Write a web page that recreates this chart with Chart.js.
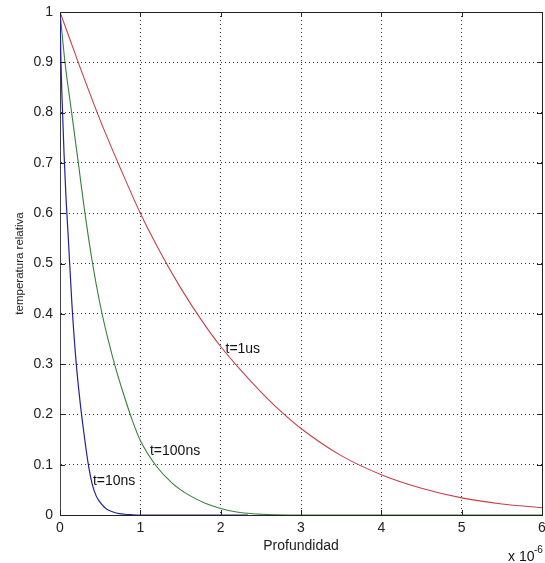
<!DOCTYPE html>
<html>
<head>
<meta charset="utf-8">
<script src="https://cdn.jsdelivr.net/npm/chart.js@4"></script>
<style>
  html, body { margin: 0; padding: 0; background: #fff; }
  canvas { display: block; }
</style>
</head>
<body>
<canvas id="grafico" width="545" height="563"></canvas>
<script>
// profundidad en unidades de 1e-6 m
const rojoX = [0, 0.25, 0.5, 0.75, 1, 1.25, 1.5, 1.75, 2, 2.25, 2.5, 2.75, 3, 3.5, 4, 4.5, 5, 5.5, 6];
const rojoY = [1, 0.89, 0.785, 0.69, 0.6, 0.522, 0.452, 0.39, 0.335, 0.288, 0.245, 0.206, 0.172, 0.118, 0.08, 0.053, 0.034, 0.022, 0.0145];

const verdeX = [0, 0.062, 0.145, 0.228, 0.3, 0.4, 0.5, 0.6, 0.7, 0.8, 0.9, 1.0, 1.2, 1.4, 1.6, 1.8, 2.0, 2.2, 2.4, 2.7, 3, 4, 5, 6];
const verdeY = [1, 0.9, 0.8, 0.7, 0.612, 0.505, 0.418, 0.348, 0.288, 0.236, 0.188, 0.148, 0.097, 0.063, 0.04, 0.024, 0.013, 0.006, 0.0025, 0.0005, 0, 0, 0, 0];

const azulX = [0, 0.012, 0.025, 0.05, 0.075, 0.1, 0.15, 0.2, 0.25, 0.3, 0.35, 0.4, 0.45, 0.5, 0.55, 0.6, 0.7, 0.8, 0.9, 1.0, 1.5, 2.34];
const azulY = [1, 0.9, 0.83, 0.72, 0.63, 0.56, 0.415, 0.305, 0.225, 0.16, 0.103, 0.062, 0.038, 0.025, 0.016, 0.01, 0.004, 0.0015, 0.0005, 0, 0, 0];

const xTicks = [0, 1, 2, 3, 4, 5, 6];
const yTicks = [0, 0.1, 0.2, 0.3, 0.4, 0.5, 0.6, 0.7, 0.8, 0.9, 1];

// etiquetas de cada curva: [texto, x, y]
const etiquetas = [
    ['t=1us', 2.06, 0.33],
    ['t=100ns', 1.12, 0.127],
    ['t=10ns', 0.41, 0.068]
];

const toPoints = (xs, ys) => xs.map((x, i) => ({ x: x, y: ys[i] }));

const fuente = '"Liberation Sans", Arial, sans-serif';

// marco, marcas interiores y textos al estilo MATLAB
const marcoPlugin = {
    id: 'marco',
    afterDraw(chart) {
        const ctx = chart.ctx;
        const a = chart.chartArea;
        const sx = chart.scales.x;
        const sy = chart.scales.y;
        ctx.save();
        ctx.strokeStyle = '#222';
        ctx.lineWidth = 1;
        ctx.beginPath();
        ctx.moveTo(a.left, a.top + 0.5);
        ctx.lineTo(a.right + 0.5, a.top + 0.5);
        ctx.lineTo(a.right + 0.5, a.bottom);
        ctx.stroke();

        // marcas hacia dentro
        ctx.beginPath();
        xTicks.forEach(v => {
            const px = Math.round(sx.getPixelForValue(v)) + 0.5;
            ctx.moveTo(px, a.bottom); ctx.lineTo(px, a.bottom - 5);
            ctx.moveTo(px, a.top); ctx.lineTo(px, a.top + 5);
        });
        yTicks.forEach(v => {
            const py = Math.round(sy.getPixelForValue(v)) + 0.5;
            ctx.moveTo(a.left, py); ctx.lineTo(a.left + 5, py);
            ctx.moveTo(a.right, py); ctx.lineTo(a.right - 5, py);
        });
        ctx.stroke();

        ctx.fillStyle = '#111';
        ctx.font = '14px ' + fuente;
        ctx.textBaseline = 'middle';
        ctx.textAlign = 'left';
        etiquetas.forEach(([txt, x, y]) => {
            ctx.fillText(txt, sx.getPixelForValue(x), sy.getPixelForValue(y));
        });

        // multiplicador del eje x
        ctx.fillText('x 10', 508, 557);
        ctx.font = '10px ' + fuente;
        ctx.fillText('-6', 534, 550);
        ctx.restore();
    }
};

const ctx = document.getElementById('grafico').getContext('2d');
new Chart(ctx, {
    type: 'line',
    data: {
        datasets: [
            { label: 't=10ns', data: toPoints(azulX, azulY), borderColor: '#23239a', borderWidth: 1.2 },
            { label: 't=100ns', data: toPoints(verdeX, verdeY), borderColor: '#35803a', borderWidth: 1.1 },
            { label: 't=1us', data: toPoints(rojoX, rojoY), borderColor: '#c8404a', borderWidth: 1.1 }
        ]
    },
    options: {
        responsive: false,
        animation: false,
        elements: {
            point: { radius: 0 },
            line: { cubicInterpolationMode: 'monotone' }
        },
        layout: { padding: { left: 0, top: 12, right: 3, bottom: 0 } },
        plugins: {
            legend: { display: false },
            tooltip: { enabled: false }
        },
        scales: {
            x: {
                type: 'linear',
                min: 0,
                max: 6,
                afterFit: s => {
                    s.height = 48;
                    s.paddingRight = 0;
                    s.paddingLeft = 0;
                },
                ticks: {
                    stepSize: 1,
                    padding: 5,
                    color: '#222',
                    font: { family: fuente, size: 14 }
                },
                grid: { color: '#333', drawTicks: false },
                border: { color: '#222', dash: [1, 3] },
                title: {
                    display: true,
                    text: 'Profundidad',
                    color: '#222',
                    font: { family: fuente, size: 14 },
                    padding: { top: 0, bottom: 8 }
                }
            },
            y: {
                type: 'linear',
                min: 0,
                max: 1,
                afterFit: s => {
                    s.width = 60;
                    s.paddingTop = 0;
                    s.paddingBottom = 0;
                },
                ticks: {
                    stepSize: 0.1,
                    padding: 7,
                    color: '#222',
                    font: { family: fuente, size: 14 },
                    callback: v => (v === 0 || v === 1) ? String(v) : v.toFixed(1)
                },
                grid: { color: '#333', drawTicks: false },
                border: { color: '#444', dash: [1, 3] },
                title: {
                    display: true,
                    text: 'temperatura relativa',
                    color: '#222',
                    font: { family: fuente, size: 11.5 },
                    padding: { top: 12.6, bottom: 0 }
                }
            }
        }
    },
    plugins: [marcoPlugin]
});
</script>
</body>
</html>
